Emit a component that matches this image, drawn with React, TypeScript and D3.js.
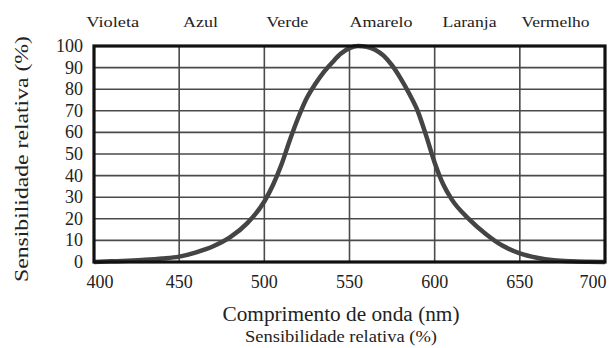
import React from "react";
import * as d3 from "d3";

// Relative spectral sensitivity of the eye (%), sampled by wavelength (nm)
const wavelengths = [400, 410, 420, 430, 440, 450, 460, 470, 480, 490, 500, 505, 510, 515, 520, 525, 530, 535, 540, 545, 550, 555, 560, 565, 570, 575, 580, 585, 590, 595, 600, 605, 610, 620, 630, 640, 650, 660, 670, 680, 690, 700];
const sensitivity = [0, 0.3, 0.6, 1, 1.6, 2.5, 4.5, 7.3, 11.5, 18, 28, 35.5, 45, 56.5, 67, 76, 82.5, 88, 92.5, 96.5, 99, 100, 99.6, 98.3, 95.5, 91, 85, 78, 70, 58.5, 46, 36, 29, 20, 13, 7.5, 4, 2, 0.8, 0.3, 0.1, 0];

const xTicks = [400, 450, 500, 550, 600, 650, 700];
const yTicks = [0, 10, 20, 30, 40, 50, 60, 70, 80, 90, 100];

// Colour band names and the wavelength each label sits over
const bandNames = ["Violeta", "Azul", "Verde", "Amarelo", "Laranja", "Vermelho"];
const bandCenters = [411, 462.5, 513.5, 568.5, 620.5, 671];
const bandWidths = [53, 35, 42, 63, 54, 68];

const W = 611;
const H = 348;
const FONT = "Liberation Serif, serif";

export default function App() {
  const x = d3.scaleLinear().domain([400, 700]).range([94, 605]);
  const y = d3.scaleLinear().domain([0, 100]).range([262, 46]);

  const pts = wavelengths.map((w, i) => [w, sensitivity[i]] as [number, number]);
  const line = d3
    .line<[number, number]>()
    .x((d) => x(d[0]))
    .y((d) => y(d[1]))
    .curve(d3.curveMonotoneX);

  const [x0, x1] = x.range();
  const [yb, yt] = y.range();

  return (
    <svg
      width={W}
      height={H}
      fontFamily={FONT}
      style={{ position: "absolute", left: 0, top: 0, background: "#fff" }}
    >
      <rect width={W} height={H} fill="#fff" />

      {/* colour band labels */}
      {bandNames.map((name, i) => (
        <text
          key={name}
          x={x(bandCenters[i])}
          y={27}
          textAnchor="middle"
          fontSize={15}
          fill="#222"
          textLength={bandWidths[i]}
          lengthAdjust="spacingAndGlyphs"
        >
          {name}
        </text>
      ))}

      {/* grid */}
      {yTicks.slice(1, -1).map((t) => (
        <line key={"h" + t} x1={x0} x2={x1} y1={y(t)} y2={y(t)} stroke="#4a4a4a" strokeWidth={1.6} />
      ))}
      {xTicks.slice(1, -1).map((t) => (
        <line key={"v" + t} x1={x(t)} x2={x(t)} y1={yt} y2={yb} stroke="#4a4a4a" strokeWidth={1.6} />
      ))}

      {/* sensitivity curve */}
      <path d={line(pts) ?? ""} fill="none" stroke="#444" strokeWidth={4.5} strokeLinejoin="round" />

      {/* frame */}
      <rect x={x0} y={yt} width={x1 - x0} height={yb - yt} fill="none" stroke="#111" strokeWidth={3.2} />

      {/* y tick labels */}
      {yTicks.map((t) => (
        <text key={"yl" + t} x={83} y={y(t) + 6} textAnchor="end" fontSize={18} fill="#222">
          {t}
        </text>
      ))}

      {/* x tick labels */}
      {xTicks.map((t, i) => {
        const shift = i === 0 ? 6 : i === xTicks.length - 1 ? -12 : 0;
        return (
          <text key={"xl" + t} x={x(t) + shift} y={288} textAnchor="middle" fontSize={18} fill="#222">
            {t}
          </text>
        );
      })}

      {/* axis titles */}
      <text
        transform={`translate(28,${159}) rotate(-90)`}
        textAnchor="middle"
        fontSize={19}
        fill="#222"
        textLength={246}
        lengthAdjust="spacingAndGlyphs"
      >
        Sensibilidade relativa (%)
      </text>
      <text x={341} y={321} textAnchor="middle" fontSize={20} fill="#222" textLength={237} lengthAdjust="spacingAndGlyphs">
        Comprimento de onda (nm)
      </text>
      <text x={341} y={342} textAnchor="middle" fontSize={16} fill="#222" textLength={192} lengthAdjust="spacingAndGlyphs">
        Sensibilidade relativa (%)
      </text>
    </svg>
  );
}
